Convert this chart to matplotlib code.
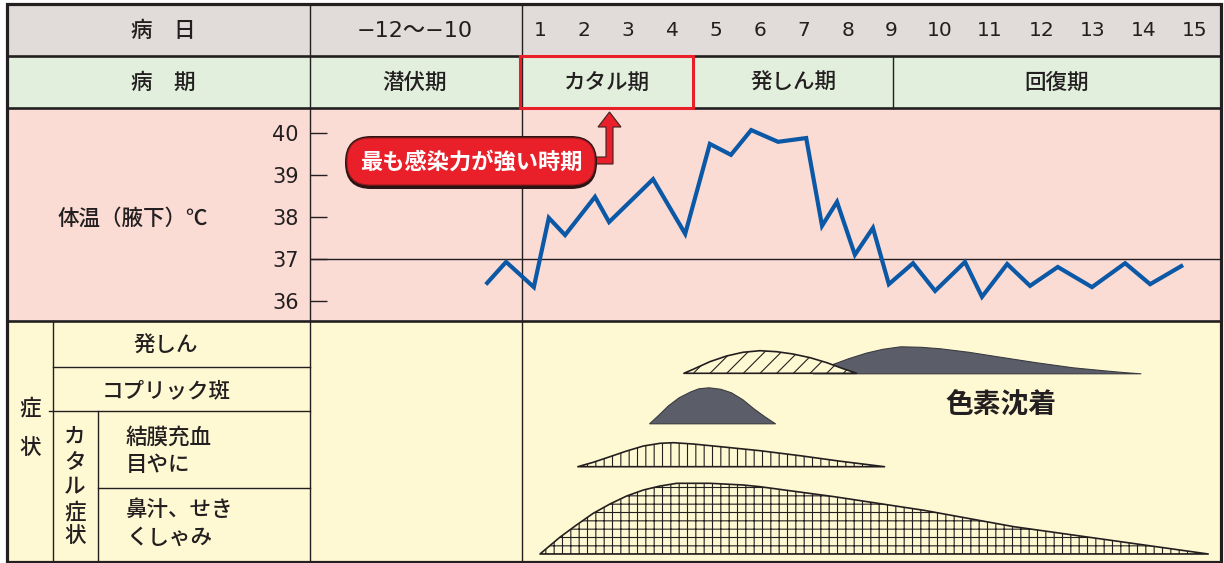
import matplotlib.pyplot as plt
import numpy as np
from matplotlib.patches import Rectangle, FancyBboxPatch, Polygon
from matplotlib.transforms import blended_transform_factory

plt.rcParams['font.family'] = ['Noto Sans CJK JP', 'DejaVu Sans']
plt.rcParams['font.weight'] = 'medium'
plt.rcParams['hatch.linewidth'] = 0.8

# --- data ---------------------------------------------------------------
days = list(range(1, 16))
day_labels = [str(d) for d in days]

# body temperature (day, deg C), two readings a day
temp_day = [-0.20, 0.23, 0.86, 1.20, 1.57, 2.25, 2.57, 3.57, 4.30, 4.86,
            5.34, 5.80, 6.41, 7.05, 7.41, 7.75, 8.16, 8.58, 8.95, 9.45,
            9.90, 10.50, 10.84, 11.33, 11.77, 12.31, 12.98, 13.63, 14.12, 14.73]
temp_val = [36.43, 36.93, 36.33, 37.98, 37.57, 38.48, 37.88, 38.90, 37.60, 39.74,
            39.48, 40.07, 39.79, 39.88, 37.79, 38.36, 37.10, 37.74, 36.40, 36.90,
            36.24, 36.93, 36.10, 36.88, 36.36, 36.81, 36.33, 36.90, 36.40, 36.83]
temp_ticks = [36, 37, 38, 39, 40]

# symptom intensity curves (day, relative height)
rash_day = [4.27, 4.48, 4.86, 5.24, 5.61, 6.00, 6.38, 6.75, 7.14, 7.52, 7.89, 8.20]
rash_h = [0, 4, 11.6, 17.3, 21, 22.6, 21.6, 19.3, 15.6, 10.6, 4.6, 0]

pigment_day = [7.2, 7.63, 8.0, 8.42, 8.8, 9.19, 9.6, 10.0, 10.57, 11.2, 11.89,
               12.6, 13.21, 13.6, 13.93]
pigment_h = [0, 9, 15, 20.7, 24.5, 27, 26.5, 25, 21.5, 16.5, 11, 6, 3, 1.2, 0]

koplik_day = [3.48, 3.7, 3.91, 4.15, 4.42, 4.6, 4.83, 5.1, 5.34, 5.6, 5.85, 6.1, 6.34]
koplik_h = [0, 9, 18, 26, 32, 35, 36, 34.5, 31, 24, 15, 7, 0]

conj_day = [1.86, 2.21, 2.59, 2.97, 3.35, 3.73, 4.03, 4.48, 5.24, 6.0, 6.91, 7.82, 8.85]
conj_h = [0, 4.4, 10, 15.7, 20.7, 23.4, 24, 22.7, 19.4, 16, 11, 5.5, 0]

nasal_day = [1.0, 1.45, 1.83, 2.21, 2.59, 2.97, 3.35, 3.73, 4.11, 4.86, 5.62,
             6.0, 7.69, 9.67, 11.46, 13.21, 15.26]
nasal_h = [0, 16.7, 29, 40.7, 50, 58, 64, 68, 70.7, 70.7, 69,
           67.3, 57.3, 43.7, 27.3, 14.7, 0]

# --- layout -------------------------------------------------------------
W, H = 1224, 563
dark = '#231f20'
cream = '#fff9d3'
red = '#e9202a'
num_font = ['DejaVu Sans', 'Noto Sans CJK JP']
day_px = [540, 584, 628, 672, 716, 760, 804, 848, 891, 940, 990, 1042, 1093, 1144, 1195]
anchor_day = [-30] + days + [40]
anchor_px = [540 - 31 * 44] + day_px + [1195 + 25 * 51]


def fwd(d):
    return np.interp(d, anchor_day, anchor_px)


def inv(p):
    return np.interp(p, anchor_px, anchor_day)


fig = plt.figure(figsize=(W / 100, H / 100), dpi=100)
fig.patch.set_facecolor('white')
ax = fig.add_axes([0, 0, 1, 1])
ax.set_xlim(0, W)
ax.set_ylim(H, 0)
ax.axis('off')


def add_data_axes(x0, x1, y0, y1):
    a = fig.add_axes([x0 / W, 1 - y1 / H, (x1 - x0) / W, (y1 - y0) / H])
    a.set_xscale('function', functions=(fwd, inv))
    a.set_xlim(float(inv(x0)), float(inv(x1)))
    a.patch.set_visible(False)
    for s in a.spines.values():
        s.set_visible(False)
    a.set_xticks([])
    return a


L, R, T, B = 6.5, 1220.5, 3.5, 561.5
rows = [(T, 55.5, '#e1dcd9'), (55.5, 108, '#e2efdd'),
        (108, 321, '#fbdcd5'), (321, B, cream)]
for y0, y1, c in rows:
    ax.add_patch(Rectangle((L, y0), R - L, y1 - y0, fc=c, ec='none', zorder=0))

# grid lines
for y in [55.5, 108, 321]:
    ax.plot([L, R], [y, y], color=dark, lw=1.9, zorder=2)
for x in [310, 521.5]:
    ax.plot([x, x], [T, B], color=dark, lw=1.0, zorder=2)
ax.plot([893, 893], [55.5, 108], color=dark, lw=1.0, zorder=2)
ax.plot([52.5, 52.5], [321, B], color=dark, lw=1.0, zorder=2)
ax.plot([52.5, 310], [366.5, 366.5], color=dark, lw=1.0, zorder=2)
ax.plot([49, 310], [411, 411], color=dark, lw=1.0, zorder=2)
ax.plot([97.5, 97.5], [411, B], color=dark, lw=1.0, zorder=2)
ax.plot([97.5, 310], [487.5, 487.5], color=dark, lw=1.0, zorder=2)
ax.add_patch(Rectangle((L, T), R - L, B - T, fill=False, ec=dark, lw=2.3, zorder=8))

# header texts
fs = 15.5
ax.text(163, 31, '病\u3000日', fontsize=fs, ha='center', va='center', color=dark)
ax.text(415, 31, '\u221212\u301c\u221210', fontsize=16, ha='center', va='center',
        color=dark, family=num_font)
ax.text(163, 83, '病\u3000期', fontsize=fs, ha='center', va='center', color=dark)
stage_x = [415, 607, 793, 1057]
for x, s in zip(stage_x, ['潜伏期', 'カタル期', '発しん期', '回復期']):
    ax.text(x, 83, s, fontsize=fs, ha='center', va='center', color=dark)
ax.add_patch(Rectangle((520, 56), 173, 52, fill=False, ec=red, lw=2.2, zorder=4))

ax.text(133, 219, '体温（腋下）℃', fontsize=fs, ha='center', va='center', color=dark)

# symptom labels
ax.text(30, 408, '症', fontsize=fs, ha='center', va='center', color=dark)
ax.text(30, 449, '状', fontsize=fs, ha='center', va='center', color=dark)
for ch, y in zip('カタル症状', [438, 462, 487, 512, 537]):
    ax.text(75, y, ch, fontsize=fs, ha='center', va='center', color=dark)
ax.text(166, 346, '発しん', fontsize=fs, ha='center', va='center', color=dark)
ax.text(166, 391, 'コプリック斑', fontsize=fs, ha='center', va='center', color=dark)
ax.text(126, 438, '結膜充血', fontsize=fs, ha='left', va='center', color=dark)
ax.text(126, 465, '目やに', fontsize=fs, ha='left', va='center', color=dark)
ax.text(126, 510, '鼻汁、せき', fontsize=fs, ha='left', va='center', color=dark)
ax.text(126, 538, 'くしゃみ', fontsize=fs, ha='left', va='center', color=dark)

# callout
ax.add_patch(Polygon([(590, 157), (606, 157), (606, 127), (598, 127), (609.5, 112),
                      (621, 127), (613, 127), (613, 164), (590, 164)],
                     closed=True, fc=red, ec='#3a2020', lw=0.8, zorder=5))
ax.add_patch(FancyBboxPatch((345, 136), 252, 53, boxstyle='round,pad=0,rounding_size=26',
                            fc='#2b1414', ec='none', zorder=6))
ax.add_patch(FancyBboxPatch((347, 138), 248, 47, boxstyle='round,pad=0,rounding_size=23',
                            fc=red, ec='#9a1a1e', lw=0.8, zorder=6))
ax.text(471, 162, '最も感染力が強い時期', color='white', fontsize=16,
        fontweight='bold', ha='center', va='center', zorder=7)

# --- temperature chart --------------------------------------------------
axt = add_data_axes(310, 1221, 108, 321)
t40_px, t36_px = 133, 301
deg_px = (t36_px - t40_px) / 4
axt.set_ylim(36 - (321 - t36_px) / deg_px, 40 + (t40_px - 108) / deg_px)
axt.axhline(37, color=dark, lw=1.0, zorder=2)
axt.plot(temp_day, temp_val, color='#0a58a6', lw=3, solid_joinstyle='miter', zorder=3)
axt.set_yticks(temp_ticks)
axt.tick_params(axis='y', direction='in', length=12.2, width=1, color=dark,
                pad=8, labelsize=15, labelcolor=dark)
for lab in axt.get_yticklabels():
    lab.set_family(num_font)

# day numbers on the header row
tr = blended_transform_factory(axt.transData, ax.transData)
for d, lab in zip(days, day_labels):
    ax.text(d, 31, lab, transform=tr, fontsize=14.5, ha='center', va='center',
            color=dark, family=num_font)

# --- symptom chart ------------------------------------------------------
axs = add_data_axes(310, 1221, 321, 561)
axs.set_ylim(0, 240)
axs.set_yticks([])
base_rash, base_koplik, base_conj, base_nasal = 187.7, 137.7, 94.3, 7

axs.fill_between(pigment_day, base_rash, base_rash + np.array(pigment_h),
                 facecolor='#5b5e69', edgecolor='#3a3b42', lw=0.8, zorder=2)
axs.fill_between(rash_day, base_rash, base_rash + np.array(rash_h),
                 facecolor=cream, edgecolor=dark, hatch='//', lw=1.2, zorder=3)
axs.fill_between(koplik_day, base_koplik, base_koplik + np.array(koplik_h),
                 facecolor='#5b5e69', edgecolor='#3a3b42', lw=0.8, zorder=2)
axs.fill_between(conj_day, base_conj, base_conj + np.array(conj_h),
                 facecolor=cream, edgecolor=dark, hatch='||', lw=1.2, zorder=2)
axs.fill_between(nasal_day, base_nasal, base_nasal + np.array(nasal_h),
                 facecolor=cream, edgecolor=dark, hatch='++', lw=1.2, zorder=2)
ax.text(1001, 406, '色素沈着', fontsize=20, fontweight='bold', ha='center',
        va='center', color=dark, zorder=3)

fig.savefig('out.png', dpi=100)
